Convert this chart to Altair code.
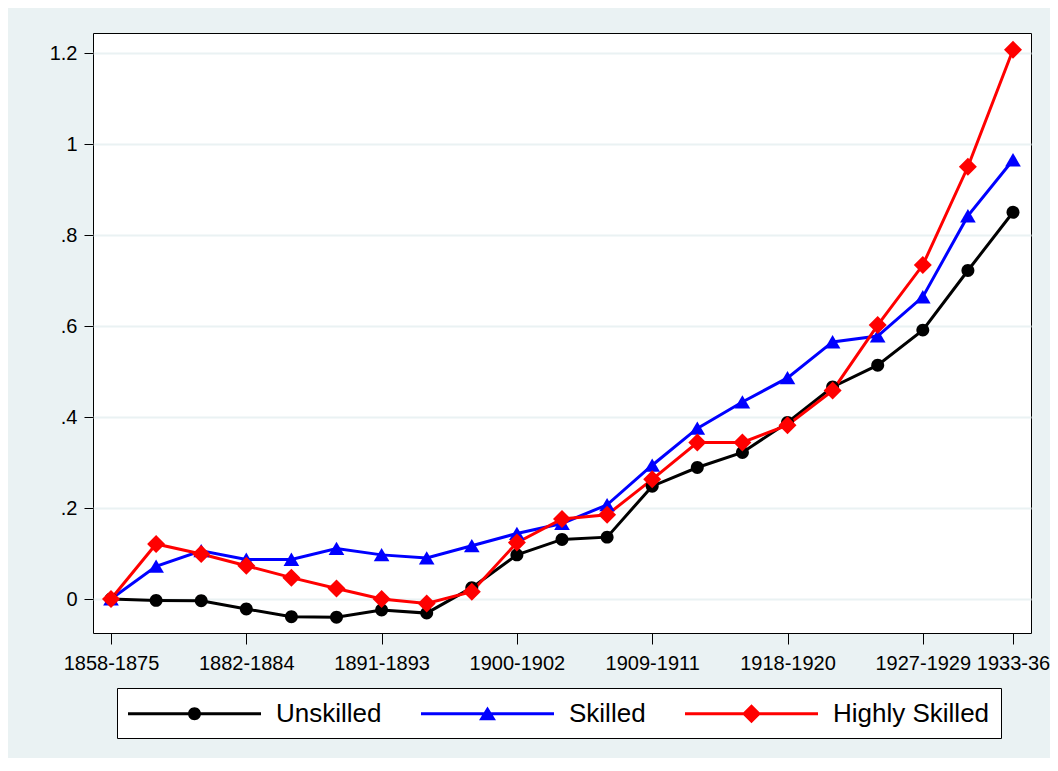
import altair as alt
import pandas as pd

# ---- data ----
periods = ["1858-1875", "1876-1878", "1879-1881", "1882-1884", "1885-1887",
           "1888-1890", "1891-1893", "1894-1896", "1897-1899", "1900-1902",
           "1903-1905", "1906-1908", "1909-1911", "1912-1914", "1915-1917",
           "1918-1920", "1921-1923", "1924-1926", "1927-1929", "1930-1932",
           "1933-36"]
series = ["Unskilled", "Skilled", "Highly Skilled"]
unskilled = [0.0, -0.003, -0.004, -0.022, -0.039, -0.040, -0.024, -0.031, 0.025,
             0.097, 0.131, 0.136, 0.248, 0.289, 0.322, 0.388, 0.466, 0.514,
             0.591, 0.722, 0.850]
skilled = [0.0, 0.072, 0.106, 0.087, 0.087, 0.111, 0.097, 0.090, 0.117, 0.144,
           0.166, 0.207, 0.294, 0.375, 0.433, 0.486, 0.565, 0.578, 0.664,
           0.842, 0.965]
highly_skilled = [0.0, 0.121, 0.099, 0.073, 0.047, 0.023, 0.0, -0.010, 0.016,
                  0.124, 0.176, 0.185, 0.263, 0.344, 0.344, 0.382, 0.458,
                  0.602, 0.734, 0.950, 1.207]
x_ticks = [0, 3, 6, 9, 12, 15, 18, 20]
y_ticks = [0, 0.2, 0.4, 0.6, 0.8, 1.0, 1.2]

rows = []
for name, vals in zip(series, [unskilled, skilled, highly_skilled]):
    for i, v in enumerate(vals):
        rows.append({"idx": i, "period": periods[i], "series": name, "value": v})
df = pd.DataFrame(rows)

FONT = "Liberation Sans"
colors = ["#000000", "#0000FF", "#FF0000"]

# plot markers (custom paths, unit = 9px at size 324)
marker_paths = [
    "M0.72,0A0.72,0.72,0,1,1,-0.72,0A0.72,0.72,0,1,1,0.72,0Z",
    "M0,-0.76L0.87,0.72L-0.87,0.72Z",
    "M0,-1L1,0L0,1L-1,0Z",
]
# legend symbols: line + marker (unit = 14.5px at size 841)
legend_paths = [
    "M-4.586,-0.11H4.586V0.11H-4.586Z"
    "M0.448,0A0.448,0.448,0,1,1,-0.448,0A0.448,0.448,0,1,1,0.448,0Z",
    "M-4.586,-0.11H4.586V0.11H-4.586Z"
    "M0,-0.5L0.586,0.45L-0.586,0.45Z",
    "M-4.586,-0.11H4.586V0.11H-4.586Z"
    "M0,-0.655L0.655,0L0,0.655L-0.655,0Z",
]

x_label_expr = "[" + ",".join("'" + p + "'" for p in periods) + "][datum.value]"
y_label_expr = ("datum.value == 0 ? '0' : (datum.value < 1 ? "
                "replace(format(datum.value, '.1f'), '0.', '.') : "
                "format(datum.value, '.1~f'))")

x_enc = alt.X("idx:Q",
              scale=alt.Scale(domain=[-0.399, 20.399], nice=False, zero=False),
              axis=alt.Axis(values=x_ticks, labelExpr=x_label_expr, title=None,
                            grid=False, domain=False, tickSize=11, tickColor="black",
                            labelFont=FONT, labelFontSize=20, labelColor="black",
                            labelPadding=9, labelOverlap=False, labelFlush=False))
y_enc = alt.Y("value:Q",
              scale=alt.Scale(domain=[-0.0747, 1.244], nice=False, zero=False),
              axis=alt.Axis(values=y_ticks, labelExpr=y_label_expr, title=None,
                            grid=True, gridColor="#EAF2F3", gridWidth=2,
                            domain=False, tickSize=9, tickColor="black",
                            labelFont=FONT, labelFontSize=20, labelColor="black",
                            labelPadding=7))

color_scale = alt.Scale(domain=series, range=colors)

lines = alt.Chart(df).mark_line(strokeWidth=3).encode(
    x=x_enc, y=y_enc,
    color=alt.Color("series:N", scale=color_scale, legend=None),
)

points = alt.Chart(df).mark_point(filled=True, opacity=1, size=324).encode(
    x=x_enc, y=y_enc,
    color=alt.Color("series:N", scale=color_scale, legend=None),
    shape=alt.Shape("series:N", scale=alt.Scale(domain=series, range=marker_paths),
                    legend=None),
)

leg = alt.Legend(title=None, orient="none", legendX=24, legendY=655,
                 direction="horizontal", columns=3, padding=11,
                 fillColor="white", strokeColor="black",
                 symbolSize=841, symbolStrokeWidth=0, symbolOpacity=1,
                 symbolOffset=52, labelOffset=67,
                 labelFont=FONT, labelFontSize=26, labelColor="black",
                 labelLimit=400, columnPadding=39, rowPadding=0)

legend_layer = alt.Chart(df).mark_point(filled=True, opacity=0).encode(
    x=x_enc, y=y_enc,
    color=alt.Color("series:N", scale=color_scale, legend=leg),
    shape=alt.Shape("series:N", scale=alt.Scale(domain=series, range=legend_paths),
                    legend=leg),
)

chart = alt.layer(lines, points, legend_layer).resolve_scale(
    color="independent", shape="independent"
).properties(
    width=938, height=600,
    background="#EAF2F3",
    autosize=alt.AutoSizeParams(type="none"),
    padding={"left": 85, "top": 25, "right": 19, "bottom": 125},
).configure_view(
    fill="white", stroke="black", strokeWidth=1
)

chart.save("out.html", embed_options={"renderer": "svg", "actions": False})
